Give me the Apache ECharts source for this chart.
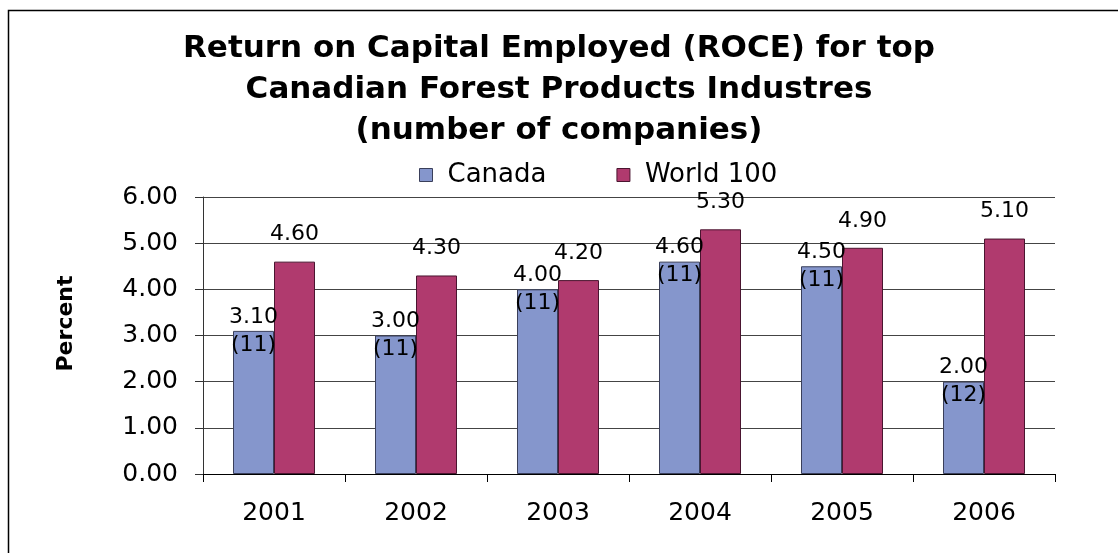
<!DOCTYPE html>
<html>
<head>
<meta charset="utf-8">
<script src="https://cdn.jsdelivr.net/npm/echarts@6/dist/echarts.min.js"></script>
<style>html,body{margin:0;padding:0;background:#fff;}#c{width:1118px;height:553px;}</style>
</head>
<body>
<div id="c"></div>
<script>
var years = ['2001', '2002', '2003', '2004', '2005', '2006'];
var canada = [3.10, 3.00, 4.00, 4.60, 4.50, 2.00];
var canadaCounts = [11, 11, 11, 11, 11, 12];
var world100 = [4.60, 4.30, 4.20, 5.30, 4.90, 5.10];
var yTicks = [0, 1, 2, 3, 4, 5, 6];

var FONT = '"DejaVu Sans", "Liberation Sans", Arial, sans-serif';
var chart = echarts.init(document.getElementById('c'), null, {renderer: 'canvas'});
chart.setOption({
  animation: false,
  backgroundColor: '#fff',
  textStyle: {fontFamily: FONT},
  graphic: [{
    type: 'rect', z: -10,
    shape: {x: 8.5, y: 10.5, width: 1200, height: 700},
    style: {fill: 'none', stroke: '#000', lineWidth: 1.5}
  }],
  title: {
    text: 'Return on Capital Employed (ROCE) for top\nCanadian Forest Products Industres\n(number of companies)',
    left: 'center', top: 23,
    textStyle: {fontSize: 31, fontWeight: 'bold', color: '#000', lineHeight: 41, fontFamily: FONT}
  },
  legend: {
    left: 414, top: 157,
    itemWidth: 13, itemHeight: 13, itemGap: 70,
    icon: 'rect',
    textStyle: {fontSize: 26, color: '#000', fontFamily: FONT, padding: [0, 0, 0, 10]},
    data: [
      {name: 'Canada', itemStyle: {borderColor: '#3a3f5a', borderWidth: 1}},
      {name: 'World 100', itemStyle: {borderColor: '#4a1530', borderWidth: 1}}
    ]
  },
  grid: {left: 203, right: 63, top: 197, bottom: 79},
  xAxis: {
    type: 'category', data: years,
    axisLine: {lineStyle: {color: '#000', width: 1}},
    axisTick: {show: true, length: 8, interval: 0, lineStyle: {color: '#000'}},
    axisLabel: {fontSize: 25, color: '#000', margin: 27, fontFamily: FONT}
  },
  yAxis: {
    type: 'value', min: yTicks[0], max: yTicks[yTicks.length - 1], interval: 1,
    name: 'Percent', nameLocation: 'middle', nameGap: 126, nameRotate: 90,
    nameTextStyle: {fontSize: 22, fontWeight: 'bold', color: '#000', fontFamily: FONT, padding: [0, 0, 0, 24]},
    axisLine: {show: true, lineStyle: {color: '#333', width: 1}},
    axisTick: {show: true, length: 8, lineStyle: {color: '#333'}},
    axisLabel: {fontSize: 25, color: '#000', margin: 25, fontFamily: FONT,
      formatter: function (v) { return v.toFixed(2); }},
    splitLine: {show: true, lineStyle: {color: '#444', width: 1}}
  },
  series: [
    {
      name: 'Canada', type: 'bar', data: canada, barWidth: 41, barGap: '0%',
      itemStyle: {color: '#8596CC', borderColor: '#3a3f5a', borderWidth: 1},
      label: {
        show: true, position: ['50%', 0], align: 'center', verticalAlign: 'middle',
        fontSize: 22, lineHeight: 28, color: '#000', fontFamily: FONT,
        formatter: function (p) { return p.value.toFixed(2) + '\n(' + canadaCounts[p.dataIndex] + ')'; }
      }
    },
    {
      name: 'World 100', type: 'bar', data: world100, barWidth: 41,
      itemStyle: {color: '#B03A6E', borderColor: '#4a1530', borderWidth: 1},
      label: {
        show: true, position: 'top', distance: 16,
        fontSize: 22, color: '#000', fontFamily: FONT,
        formatter: function (p) { return p.value.toFixed(2); }
      }
    }
  ]
});
</script>
</body>
</html>
